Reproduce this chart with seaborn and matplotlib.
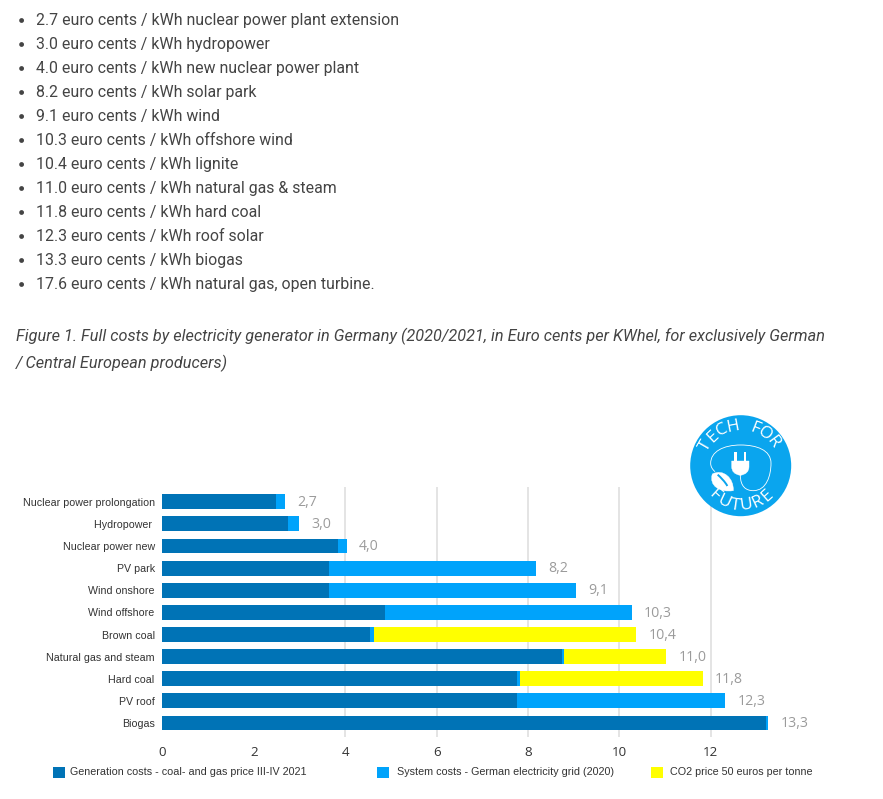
#!/usr/bin/env python3
"""Full costs by electricity generator in Germany, stacked bars below the article text."""

import numpy as np
import pandas as pd
import matplotlib
matplotlib.use("Agg")
import matplotlib.pyplot as plt
from matplotlib.patches import Circle, PathPatch, Rectangle
from matplotlib.path import Path
import seaborn as sns

BULLETS = [
    "2.7 euro cents / kWh nuclear power plant extension",
    "3.0 euro cents / kWh hydropower",
    "4.0 euro cents / kWh new nuclear power plant",
    "8.2 euro cents / kWh solar park",
    "9.1 euro cents / kWh wind",
    "10.3 euro cents / kWh offshore wind",
    "10.4 euro cents / kWh lignite",
    "11.0 euro cents / kWh natural gas & steam",
    "11.8 euro cents / kWh hard coal",
    "12.3 euro cents / kWh roof solar",
    "13.3 euro cents / kWh biogas",
    "17.6 euro cents / kWh natural gas, open turbine.",
]
CAPTION = [
    "Figure 1. Full costs by electricity generator in Germany (2020/2021, in Euro cents per KWhel, for exclusively German",
    "/ Central European producers)",
]

categories = [
    "Nuclear power prolongation", "Hydropower ", "Nuclear power new", "PV park",
    "Wind onshore", "Wind offshore", "Brown coal", "Natural gas and steam",
    "Hard coal", "PV roof", "Biogas",
]
generation = [2.49, 2.76, 3.84, 3.64, 3.64, 4.87, 4.54, 8.75, 7.77, 7.77, 13.20]
system = [0.20, 0.24, 0.19, 4.53, 5.41, 5.40, 0.09, 0.03, 0.05, 4.54, 0.06]
co2 = [0, 0, 0, 0, 0, 0, 5.74, 2.24, 4.00, 0, 0]
value_labels = ["2,7", "3,0", "4,0", "8,2", "9,1", "10,3", "10,4", "11,0", "11,8", "12,3", "13,3"]
x_ticks = [0, 2, 4, 6, 8, 10, 12]
grid_ticks = [4, 6, 8, 10, 12]

legend_labels = [
    "Generation costs - coal- and gas price III-IV 2021",
    "System costs - German electricity grid (2020)",
    "CO2 price 50 euros per tonne",
]
DARK_BLUE = "#0073b6"
LIGHT_BLUE = "#00a3fb"
YELLOW = "#ffff00"
LOGO_BLUE = "#0aa5ee"
W, H = 883, 799

sns.set_theme(style="white")
plt.rcParams["font.family"] = ["Liberation Sans", "DejaVu Sans"]

fig = plt.figure(figsize=(W / 100, H / 100), dpi=100, facecolor="white")

# chart axes, placed so data units land on the same pixels as the reference
left, right, top, bottom = 162.3, 848.0, 486.7, 736.5
ax = fig.add_axes([left / W, 1 - bottom / H, (right - left) / W, (bottom - top) / H])

df = pd.DataFrame({"category": categories, "generation": generation, "system": system, "co2": co2})
df["gen_sys"] = df["generation"] + df["system"]
df["total"] = df["gen_sys"] + df["co2"]

# stacked look: longest layer first, shorter ones painted over it
for col, colour in [("total", YELLOW), ("gen_sys", LIGHT_BLUE), ("generation", DARK_BLUE)]:
    sns.barplot(data=df, y="category", x=col, color=colour, width=0.67, saturation=1,
                orient="y", ax=ax, zorder=3, linewidth=0)

for i, (val, lab) in enumerate(zip(df["total"], value_labels)):
    ax.annotate(lab, (val, i), xytext=(8.8, -0.5), textcoords="offset points", va="center", ha="left",
                fontsize=10.2, color="#9b9b9b", family="Open Sans")

ax.set_xlim(0, 15)
ax.set_ylim(10.61, -0.68)
ax.set_xlabel("")
ax.set_ylabel("")
ax.set_xticks(x_ticks)
ax.tick_params(axis="x", length=0, pad=7, labelsize=9.6, labelcolor="#333333")
ax.tick_params(axis="y", length=0, pad=5.5, labelsize=7.7, labelcolor="#333333")
for lab in ax.get_xticklabels():
    lab.set_family("Open Sans")
for g in grid_ticks:
    ax.axvline(g, color="#dddddd", lw=1.1, zorder=1)
sns.despine(ax=ax, left=True, bottom=True)
ax.patch.set_alpha(0)

# overlay in pixel coordinates for the page text, legend and logo
ov = fig.add_axes([0, 0, 1, 1], zorder=5)
ov.set_xlim(0, W)
ov.set_ylim(H, 0)
ov.axis("off")

for i, line in enumerate(BULLETS):
    y = 21 + 24 * i
    ov.add_patch(Circle((21.6, y - 0.5), 2.4, color="#444444", lw=0))
    ov.text(36, y, line, family="Roboto", fontsize=11.46, color="#444444", va="center", ha="left")
for i, line in enumerate(CAPTION):
    ov.text(16, 336 + 27 * i, line, family="Roboto", style="italic", fontsize=11.72,
            color="#444444", va="center", ha="left")

# legend
for sw_x, text_x, colour, lab in zip([53, 377, 651], [70, 397, 670],
                                     [DARK_BLUE, LIGHT_BLUE, YELLOW], legend_labels):
    ov.add_patch(Rectangle((sw_x, 766.5), 12, 11, color=colour, lw=0))
    ov.text(text_x, 772, lab, fontsize=7.78, color="#333333", va="center", ha="left")

# logo
cx, cy, rad = 740.7, 465.7, 50.5
ov.add_patch(Circle((cx, cy), rad, color=LOGO_BLUE, lw=0, zorder=2))


def arc_text(word, start, end, radius, flip=False):
    angles = np.linspace(start, end, len(word))
    for ch, a in zip(word, angles):
        r = np.radians(a)
        if flip:
            x, y = cx + radius * np.sin(r), cy + radius * np.cos(r)
            rot = a
        else:
            x, y = cx + radius * np.sin(r), cy - radius * np.cos(r)
            rot = -a
        ov.text(x, y, ch, color="white", family="Open Sans", fontsize=12.5,
                rotation=rot, rotation_mode="anchor", ha="center", va="center", zorder=3)


arc_text("TECH FOR", -60, 54, 40)
arc_text("FUTURE", -42, 42, 40, flip=True)


def z(x, y):
    # crop coordinates of the logo back to page pixels
    return 670 + x / 3, 400 + y / 3


# cord
cord = [z(211, 225), z(211, 260), z(228, 272), z(250, 272), z(290, 272), z(303, 225), z(303, 190),
        z(303, 150), z(260, 135), z(212, 135), z(160, 135), z(122, 155), z(122, 190),
        z(122, 200), z(127, 208), z(135, 215)]
ov.add_patch(PathPatch(Path(cord, [Path.MOVETO] + [Path.CURVE4] * 15), fc="none", ec="white",
                       lw=0.6, zorder=3))
# plug
for px in (197, 225):
    ov.add_patch(Rectangle(z(px - 4, 157), 8 / 3, 30 / 3, color="white", lw=0, zorder=3))
body = [z(185, 183), z(237, 183), z(237, 200), z(237, 222), z(211, 226), z(185, 222), z(185, 200),
        z(185, 183)]
ov.add_patch(PathPatch(Path(body, [Path.MOVETO, Path.LINETO, Path.LINETO, Path.CURVE3, Path.CURVE3,
                                   Path.CURVE3, Path.CURVE3, Path.CLOSEPOLY]),
                       fc="white", ec="white", lw=0.3, zorder=3))
# leaf
leaf = [z(127, 222), z(160, 205), z(192, 235), z(190, 272), z(150, 278), z(116, 258), z(127, 222)]
ov.add_patch(PathPatch(Path(leaf, [Path.MOVETO] + [Path.CURVE4] * 6), fc="white", ec="white",
                       lw=0.3, zorder=3))
midrib = [z(143, 224), z(152, 232), z(166, 246), z(172, 258)]
ov.add_patch(PathPatch(Path(midrib, [Path.MOVETO] + [Path.CURVE4] * 3), fc="none", ec=LOGO_BLUE,
                       lw=1.4, zorder=4))

fig.savefig("out.png", dpi=100)
